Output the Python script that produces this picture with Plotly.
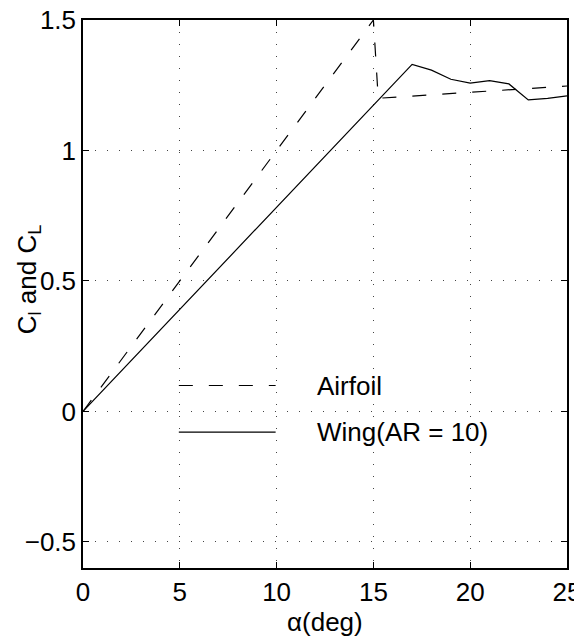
import plotly.graph_objects as go

# Data
alpha_airfoil = [0, 15, 15.25, 25]
cl_airfoil = [0, 1.5, 1.2, 1.247]

alpha_wing = [0, 17, 18, 19, 20, 21, 22, 23, 24, 25]
cl_wing = [0, 1.33, 1.308, 1.273, 1.258, 1.268, 1.255, 1.194, 1.20, 1.209]

legend_names = ["Airfoil", "Wing(AR = 10)"]

x_ticks = [0, 5, 10, 15, 20, 25]
y_ticks = [-0.5, 0, 0.5, 1, 1.5]
y_tick_text = ["\u22120.5", "0", "0.5", "1", "1.5"]

font = "Liberation Sans, Arial, sans-serif"
fs = 26

fig = go.Figure()
fig.add_trace(go.Scatter(x=alpha_airfoil, y=cl_airfoil, mode="lines", name=legend_names[0],
                         line=dict(color="black", width=1.2, dash="14px,16px")))
fig.add_trace(go.Scatter(x=alpha_wing, y=cl_wing, mode="lines", name=legend_names[1],
                         line=dict(color="black", width=1.2)))

# legend drawn by hand, MATLAB style (long key lines, no box)
keys = [("14px,16px", 0.333), ("solid", 0.248)]
for name, (dash, yk) in zip(legend_names, keys):
    fig.add_shape(type="line", xref="paper", yref="paper", x0=0.198, x1=0.398, y0=yk, y1=yk,
                  line=dict(color="black", width=1.2, dash=dash))
    fig.add_annotation(text=name, xref="paper", yref="paper", x=0.479, y=yk,
                       xanchor="left", yanchor="middle", showarrow=False,
                       font=dict(size=fs, color="black", family=font))

# axis labels as annotations so they sit where MATLAB put them
fig.add_annotation(text="C<sub>l</sub> and C<sub>L</sub>", xref="paper", yref="paper",
                   x=-0.1135, y=0.527, xanchor="center", yanchor="middle",
                   textangle=-90, showarrow=False,
                   font=dict(size=fs, color="black", family=font))
fig.add_annotation(text="\u03b1(deg)", xref="paper", yref="paper",
                   x=0.5, y=-0.098, xanchor="center", yanchor="middle", showarrow=False,
                   font=dict(size=fs, color="black", family=font))

axis_common = dict(
    showline=True, linecolor="black", linewidth=1.5, mirror="ticks",
    ticks="inside", ticklen=6, tickcolor="black", tickwidth=1,
    showgrid=True, gridcolor="#444444", gridwidth=1, griddash="1px,11px",
    zeroline=False, automargin=False, ticklabeloverflow="allow",
    tickfont=dict(size=fs, color="black", family=font),
)

fig.update_xaxes(range=[0, 25], tickvals=x_ticks, **axis_common)
fig.update_yaxes(range=[-0.6, 1.5], tickvals=y_ticks, ticktext=y_tick_text, **axis_common)

# page body adds an 8px margin, so the figure is sized to fit what is left
fig.update_layout(
    width=574, height=628,
    margin=dict(l=75, r=14.5, t=11.5, b=68),
    paper_bgcolor="white", plot_bgcolor="white",
    showlegend=False,
    font=dict(family=font, color="black"),
)

fig.write_html("out.html")
